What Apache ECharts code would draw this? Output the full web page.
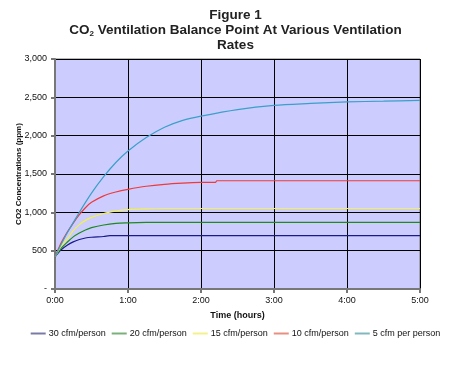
<!DOCTYPE html>
<html><head><meta charset="utf-8">
<script src="https://cdn.jsdelivr.net/npm/echarts@6/dist/echarts.min.js"></script>
<style>html,body{margin:0;padding:0;background:#fff}#c{width:471px;height:380px}</style>
</head><body><div id="c"></div>
<script>
// time in minutes
const seriesNames = ['30 cfm/person','20 cfm/person','15 cfm/person','10 cfm/person','5 cfm per person'];
const t30 = [0,5,10,15,20,25,30,40,45,300];
const v30 = [420,510,570,615,645,665,675,685,695,695];
const t20 = [0,5,10,15,20,25,30,40,50,60,75,90,300];
const v20 = [420,530,610,680,730,770,800,835,855,862,868,870,870];
const t15 = [0,5,10,15,20,25,30,40,50,60,75,90,300];
const v15 = [420,560,650,760,840,895,935,985,1015,1035,1045,1050,1050];
const t10 = [0,5,10,15,20,25,30,40,50,60,75,90,105,120,132,133,300];
const v10 = [420,600,740,860,970,1060,1130,1215,1265,1300,1340,1365,1380,1390,1392,1412,1412];
const t5 = [0,5,10,20,30,40,50,60,75,90,105,120,150,180,210,240,270,300];
const v5 = [420,580,730,1000,1250,1465,1650,1800,1975,2110,2200,2255,2340,2395,2420,2440,2450,2460];
const xTicks = ['0:00','1:00','2:00','3:00','4:00','5:00'];
const yTickLabels = {0:'-',500:'500',1000:'1,000',1500:'1,500',2000:'2,000',2500:'2,500',3000:'3,000'};
const colors = ['#1a1a8c','#1e8a1e','#f2f24a','#ee3a3a','#3aa0c8'];
const legendColors = ['#7a7aa8','#7ab07a','#f5f08a','#e89080','#80b8c0'];

const tArr = [t30,t20,t15,t10,t5];
const vArr = [v30,v20,v15,v10,v5];
const chart = echarts.init(document.getElementById('c'));
const font = 'Liberation Sans, Arial, sans-serif';
chart.setOption({
  animation:false,
  title:{
    text:'Figure 1\n{b|CO}{s|2}{b| Ventilation Balance Point At Various Ventilation}\nRates',
    left:'center', top:3,
    textStyle:{fontFamily:font,fontWeight:'bold',fontSize:13.5,color:'#222',lineHeight:15,
      rich:{b:{fontFamily:font,fontWeight:'bold',fontSize:13.5,color:'#222'},
            s:{fontFamily:font,fontWeight:'bold',fontSize:8,color:'#222',verticalAlign:'bottom',padding:[6,0,0,0]}}}
  },
  legend:{
    bottom:37,left:'center',itemWidth:15,itemHeight:2,itemGap:6,icon:'rect',
    textStyle:{fontFamily:font,fontSize:9,color:'#111',padding:[0,0,0,-2]},
    data:seriesNames.map((n,i)=>({name:n,itemStyle:{color:legendColors[i]}}))
  },
  grid:{left:55,right:51,top:59,bottom:91,backgroundColor:'#ccccff',show:true,borderColor:'#777',borderWidth:1},
  xAxis:{
    type:'value',min:0,max:300,interval:60,
    name:'Time (hours)',nameLocation:'middle',nameGap:22,
    nameTextStyle:{fontFamily:font,fontWeight:'bold',fontSize:9,color:'#111'},
    axisLine:{lineStyle:{color:'#777',width:2}},
    axisTick:{show:true,length:4,lineStyle:{color:'#777',width:2}},
    axisLabel:{fontFamily:font,fontSize:9,color:'#111',margin:7,formatter:v=>xTicks[v/60]},
    splitLine:{show:true,lineStyle:{color:'#000',width:1}}
  },
  yAxis:{
    type:'value',min:0,max:3000,interval:500,
    name:'CO2 Concentrations (ppm)',nameLocation:'middle',nameGap:32,nameMoveOverlap:false,
    nameTextStyle:{fontFamily:font,fontWeight:'bold',fontSize:8,color:'#111'},
    axisLine:{show:true,lineStyle:{color:'#777',width:2}},
    axisTick:{show:true,length:4,lineStyle:{color:'#777',width:2}},
    axisLabel:{fontFamily:font,fontSize:9,color:'#111',margin:8,formatter:v=>yTickLabels[v]},
    splitLine:{show:true,lineStyle:{color:'#000',width:1}}
  },
  series:seriesNames.map((n,i)=>({
    name:n,type:'line',showSymbol:false,symbol:'none',smooth:0.3,
    data:tArr[i].map((t,j)=>[t,vArr[i][j]]),
    lineStyle:{color:colors[i],width:1.2},itemStyle:{color:colors[i]}
  }))
});
</script></body></html>
